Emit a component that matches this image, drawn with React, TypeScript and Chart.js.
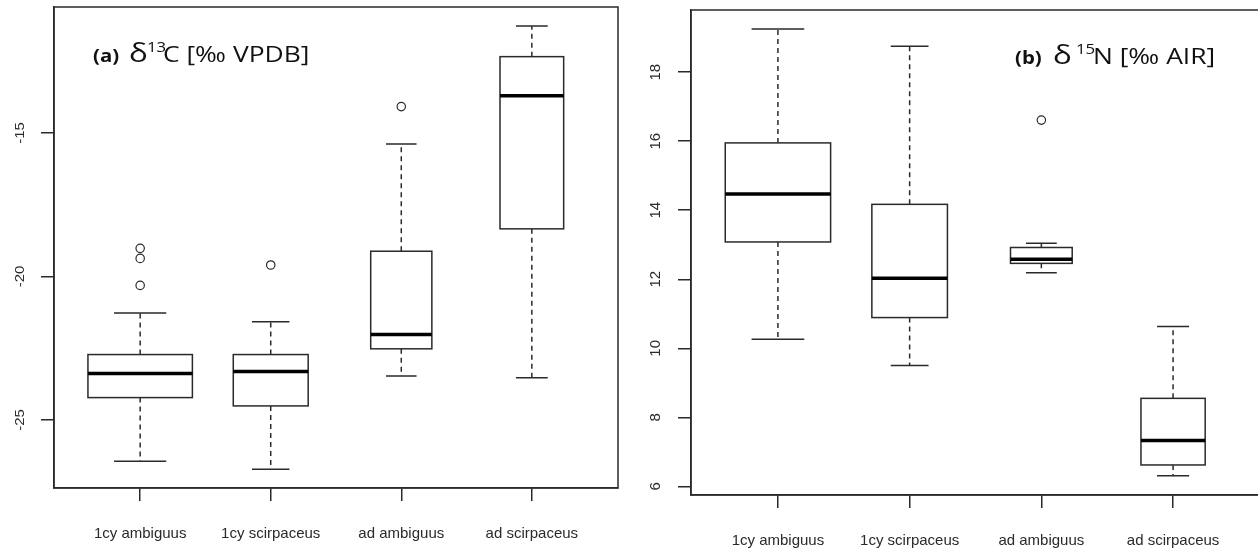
import React, { useEffect, useRef } from "react";
import { Chart, registerables } from "chart.js";

Chart.register(...registerables);

// ---------- data ----------
const categories = ["1cy ambiguus", "1cy scirpaceus", "ad ambiguus", "ad scirpaceus"];
const sampleSizes = [35, 18, 12, 13];

// panel (a) δ13C
const c13Min = [-26.44, -26.72, -23.47, -23.53];
const c13Q1 = [-24.22, -24.51, -22.52, -18.34];
const c13Median = [-23.38, -23.31, -22.02, -13.7];
const c13Q3 = [-22.72, -22.72, -19.12, -12.34];
const c13Max = [-21.27, -21.58, -15.38, -11.27];
const c13Outliers = [[-20.31, -19.37, -19.02], [-19.6], [-14.08], []];
const c13Ticks = [-25, -20, -15];

// panel (b) δ15N
const n15Min = [10.26, 9.5, 12.19, 6.31];
const n15Q1 = [13.08, 10.89, 12.46, 6.62];
const n15Median = [14.47, 12.03, 12.58, 7.33];
const n15Q3 = [15.95, 14.17, 12.92, 8.55];
const n15Max = [19.25, 18.75, 13.04, 10.63];
const n15Outliers = [[], [], [16.61], []];
const n15Ticks = [6, 8, 10, 12, 14, 16, 18];

const INK = "#2a2a2a";
const TITLE_STRETCH = 1.2;

function makeBoxPlugin(p: any) {
  return {
    id: "boxplotDraw",
    beforeDatasetsDraw(chart: any) {
      const { ctx } = chart;
      const xs = chart.scales.x;
      const ys = chart.scales.y;
      const nMax = Math.max(...sampleSizes);
      ctx.save();
      for (let i = 0; i < p.q1.length; i++) {
        const c = i + 1;
        const w = 0.8 * Math.sqrt(sampleSizes[i] / nMax);
        const xc = xs.getPixelForValue(c);
        const xl = xs.getPixelForValue(c - w / 2);
        const xr = xs.getPixelForValue(c + w / 2);
        const cl = xs.getPixelForValue(c - w / 4);
        const cr = xs.getPixelForValue(c + w / 4);
        const yMin = ys.getPixelForValue(p.min[i]);
        const yQ1 = ys.getPixelForValue(p.q1[i]);
        const yMed = ys.getPixelForValue(p.med[i]);
        const yQ3 = ys.getPixelForValue(p.q3[i]);
        const yMax = ys.getPixelForValue(p.max[i]);
        ctx.strokeStyle = INK;
        ctx.lineWidth = 1.5;
        ctx.setLineDash([5, 4]);
        ctx.beginPath();
        ctx.moveTo(xc, yQ3);
        ctx.lineTo(xc, yMax);
        ctx.moveTo(xc, yQ1);
        ctx.lineTo(xc, yMin);
        ctx.stroke();
        ctx.setLineDash([]);
        ctx.beginPath();
        ctx.moveTo(cl, yMax);
        ctx.lineTo(cr, yMax);
        ctx.moveTo(cl, yMin);
        ctx.lineTo(cr, yMin);
        ctx.stroke();
        ctx.fillStyle = "#fff";
        ctx.fillRect(xl, yQ3, xr - xl, yQ1 - yQ3);
        ctx.strokeRect(xl, yQ3, xr - xl, yQ1 - yQ3);
        ctx.strokeStyle = "#000";
        ctx.lineWidth = 3.5;
        ctx.beginPath();
        ctx.moveTo(xl, yMed);
        ctx.lineTo(xr, yMed);
        ctx.stroke();
      }
      ctx.restore();
    },
    afterDraw(chart: any) {
      const { ctx, chartArea } = chart;
      const ys = chart.scales.y;
      ctx.save();
      ctx.strokeStyle = INK;
      ctx.lineWidth = 1.5;
      ctx.strokeRect(chartArea.left, chartArea.top, chartArea.right - chartArea.left, chartArea.bottom - chartArea.top);
      ctx.fillStyle = INK;
      ctx.font = p.yFont;
      ctx.textAlign = "center";
      ctx.textBaseline = "alphabetic";
      for (const t of p.ticks) {
        const py = ys.getPixelForValue(t);
        ctx.save();
        ctx.translate(chartArea.left - p.yLabelOffset, py);
        ctx.rotate(-Math.PI / 2);
        ctx.scale(1, p.ySquash);
        ctx.fillText(String(t), 0, 0);
        ctx.restore();
      }
      ctx.fillStyle = "#111";
      ctx.textAlign = "left";
      for (const r of p.title) {
        ctx.save();
        ctx.font = r.font;
        ctx.translate(r.x, r.y);
        ctx.scale(TITLE_STRETCH, 1);
        ctx.fillText(r.text, 0, 0);
        ctx.restore();
      }
      ctx.restore();
    },
  };
}

function makeConfig(p: any) {
  const outlierPts = p.outliers.flatMap((arr: number[], i: number) => arr.map((v) => ({ x: i + 1, y: v })));
  return {
    type: "scatter",
    data: {
      datasets: [
        {
          data: outlierPts,
          pointStyle: "circle",
          pointRadius: 4.2,
          pointBorderWidth: 1.2,
          borderColor: INK,
          backgroundColor: "rgba(0,0,0,0)",
        },
      ],
    },
    options: {
      animation: false,
      responsive: false,
      events: [],
      layout: { padding: { top: p.padTop, right: p.padRight, left: 0, bottom: 0 } },
      plugins: {
        legend: { display: false },
        tooltip: { enabled: false },
      },
      scales: {
        x: {
          type: "linear",
          min: 0.34,
          max: 4.66,
          afterBuildTicks: (s: any) => {
            s.ticks = categories.map((_, i) => ({ value: i + 1 }));
          },
          afterFit: (s: any) => {
            s.height = p.xHeight;
          },
          ticks: {
            autoSkip: false,
            maxRotation: 0,
            minRotation: 0,
            padding: p.xPad,
            color: INK,
            font: { family: "'Liberation Sans', Arial, sans-serif", size: 15 },
            callback: (v: number) => categories[Math.round(v) - 1] ?? "",
          },
          grid: { display: true, drawOnChartArea: false, drawTicks: true, tickLength: 13, color: INK, lineWidth: 1.5 },
          border: { display: true, color: INK, width: 1.5 },
        },
        y: {
          type: "linear",
          min: p.yMin,
          max: p.yMax,
          afterBuildTicks: (s: any) => {
            s.ticks = p.ticks.map((v: number) => ({ value: v }));
          },
          afterFit: (s: any) => {
            s.width = p.yWidth;
          },
          ticks: { display: false },
          grid: { display: true, drawOnChartArea: false, drawTicks: true, tickLength: 13, color: INK, lineWidth: 1.5 },
          border: { display: true, color: INK, width: 1.5 },
        },
      },
    },
  };
}

const TF = "'Open Sans', 'Noto Sans', sans-serif";

const panelA = {
  min: c13Min, q1: c13Q1, med: c13Median, q3: c13Q3, max: c13Max, outliers: c13Outliers, ticks: c13Ticks,
  yMin: -27.37, yMax: -10.61,
  yWidth: 54, xHeight: 63, padTop: 7, padRight: 12, xPad: 24,
  yFont: "15px 'Liberation Sans', Arial, sans-serif", yLabelOffset: 30, ySquash: 0.8,
  title: [
    { text: "(a)", x: 93, y: 62, font: `bold 17px ${TF}` },
    { text: "δ", x: 129, y: 62, font: `26px ${TF}` },
    { text: "13", x: 147, y: 52, font: `14px ${TF}` },
    { text: "C [‰ VPDB]", x: 163, y: 62, font: `22px ${TF}` },
  ],
};

const panelB = {
  min: n15Min, q1: n15Q1, med: n15Median, q3: n15Q3, max: n15Max, outliers: n15Outliers, ticks: n15Ticks,
  yMin: 5.75, yMax: 19.8,
  yWidth: 61, xHeight: 56, padTop: 10, padRight: 10, xPad: 24,
  yFont: "15px 'Liberation Sans', Arial, sans-serif", yLabelOffset: 31, ySquash: 1,
  title: [
    { text: "(b)", x: 1015 - 630, y: 64, font: `bold 17px ${TF}` },
    { text: "δ", x: 1053 - 630, y: 64, font: `26px ${TF}` },
    { text: "15", x: 1076 - 630, y: 54, font: `14px ${TF}` },
    { text: "N [‰ AIR]", x: 1093 - 630, y: 64, font: `22px ${TF}` },
  ],
};

function Panel({ p, left, width }: { p: any; left: number; width: number }) {
  const ref = useRef<HTMLCanvasElement | null>(null);
  useEffect(() => {
    if (!ref.current) return;
    const chart = new Chart(ref.current, { ...(makeConfig(p) as any), plugins: [makeBoxPlugin(p)] });
    return () => chart.destroy();
  }, []);
  return (
    <canvas
      ref={ref}
      width={width}
      height={551}
      style={{ position: "absolute", left, top: 0, width, height: 551 }}
    />
  );
}

export default function App() {
  return (
    <div
      style={{
        position: "absolute",
        left: 0,
        top: 0,
        width: 1258,
        height: 551,
        overflow: "hidden",
        background: "#fff",
      }}
    >
      <Panel p={panelA} left={0} width={630} />
      <Panel p={panelB} left={630} width={640} />
    </div>
  );
}
